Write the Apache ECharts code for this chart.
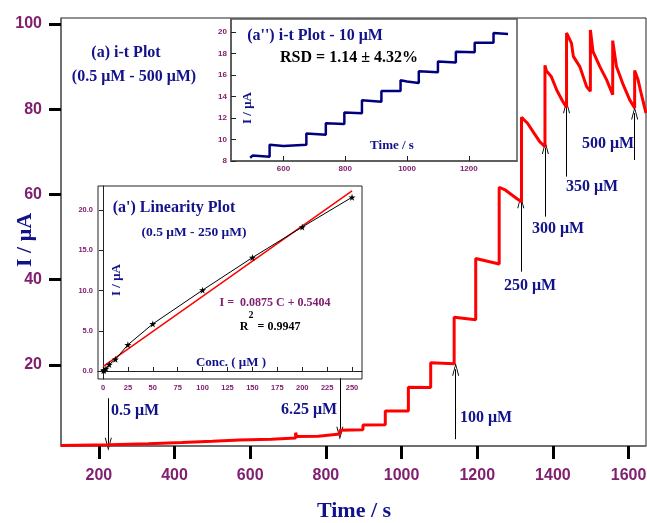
<!DOCTYPE html>
<html>
<head>
<meta charset="utf-8">
<script src="https://cdn.jsdelivr.net/npm/echarts@6/dist/echarts.min.js"></script>
<style>
  html, body { margin: 0; padding: 0; background: #fff; }
  #main { width: 647px; height: 523px; }
</style>
</head>
<body>
<div id="main"></div>
<script>
// (a) main i-t trace, 0.5 uM - 500 uM (time in s, current in uA)
var mainTime = [100, 230, 330, 420, 500, 572, 656, 656, 720, 720,
  723, 780, 780, 837, 837, 898, 898, 957, 957, 1018,
  1018, 1077, 1077, 1139, 1139, 1196, 1196, 1258, 1258, 1275,
  1290, 1305, 1317, 1317, 1333, 1350, 1365, 1379, 1379, 1383,
  1396, 1410, 1425, 1436, 1436, 1449, 1454, 1471, 1489, 1499,
  1499, 1506, 1524, 1542, 1558, 1558, 1568, 1586, 1603, 1616,
  1616, 1625, 1634, 1646];
var mainCurrent = [1.1, 1.3, 1.5, 1.8, 2.1, 2.4, 2.6, 2.8, 2.9, 4.1,
  3.2, 3.3, 3.7, 3.8, 4.7, 4.8, 5.9, 6.0, 9.2, 9.2,
  14.8, 14.7, 20.5, 20.3, 31.2, 30.6, 45.0, 43.7, 61.7, 61.0,
  60.0, 59.0, 58.3, 78.1, 76.7, 74.4, 72.4, 71.2, 90.3, 89.0,
  87.6, 84.5, 82.0, 80.4, 97.9, 95.5, 92.4, 90.0, 85.3, 84.2,
  98.6, 93.5, 90.0, 86.9, 83.4, 96.1, 90.0, 85.7, 82.2, 80.3,
  89.1, 86.9, 83.4, 79.1];

// (a'') i-t trace, 10 uM additions
var itTime = [492, 500, 555, 555, 600, 674, 674, 737, 737, 797,
  797, 854, 854, 917, 917, 979, 979, 1000, 1038, 1038,
  1100, 1100, 1158, 1158, 1219, 1219, 1280, 1280, 1327];
var itCurrent = [8.3, 8.5, 8.4, 9.5, 9.4, 9.5, 10.55, 10.45, 11.5, 11.45,
  12.5, 12.45, 13.65, 13.5, 14.5, 14.5, 15.5, 15.4, 15.25, 16.35,
  16.25, 17.25, 17.15, 18.15, 18.1, 19.0, 19.0, 19.9, 19.8];

// (a') linearity plot
var linConc = [0.5, 1, 3, 6.25, 12.5, 25, 50, 100, 150, 200, 250];
var linCurrent = [0.05, 0.1, 0.3, 0.8, 1.45, 3.25, 5.85, 10.05, 14.1, 17.9, 21.6];
var fitConc = [0, 250];
var fitCurrent = [0.54, 22.4];

// tick labels
var mainXTicks = [200, 400, 600, 800, 1000, 1200, 1400, 1600];
var mainYTicks = [20, 40, 60, 80, 100];
var itXTicks = [600, 800, 1000, 1200];
var itYTicks = [8, 10, 12, 14, 16, 18, 20];
var linXTicks = [0, 25, 50, 75, 100, 125, 150, 175, 200, 225, 250];
var linYTicks = [0, 5, 10, 15, 20];

// addition arrows: [time, from current, to current]
var arrowTime = [225, 837, 1143, 1315, 1380, 1436, 1616];
var arrowFrom = [12.2, 16.9, 2.6, 41.9, 54.8, 64.2, 68.1];
var arrowTo = [1.4, 4.0, 19.0, 58.3, 71.0, 80.6, 79.1];

function zip(a, b) {
  return a.map(function (v, i) { return [v, b[i]]; });
}

var purple = '#80206f';
var navy = '#12128a';
var serif = '"Liberation Serif", "Times New Roman", serif';
var sans = '"Liberation Sans", Arial, sans-serif';
var plain = function (v) { return String(v); };

var chevron = 'path://M50,0 L100,100 L86,100 L50,22 L14,100 L0,100 Z';
var star = 'path://M50,0 L61,35 L98,35 L68,57 L79,91 L50,70 L21,91 L32,57 L2,35 L39,35 Z';

var arrowLines = arrowTime.map(function (t, i) {
  return [{ coord: [t, arrowFrom[i]] }, { coord: [t, arrowTo[i]] }];
});

function txt(text, x, y, size, color, rot) {
  return {
    type: 'text', x: x, y: y, rotation: rot || 0, z: 100,
    style: {
      text: text, fill: color, fontSize: size, fontWeight: 'bold',
      fontFamily: serif, textAlign: 'center', textVerticalAlign: 'middle'
    }
  };
}

var chart = echarts.init(document.getElementById('main'));

var option = {
  animation: false,
  grid: [
    { left: 61, top: 18, width: 585, height: 428, show: true, outerBoundsMode: 'none',
      borderColor: '#222', borderWidth: 1 },
    { left: 231, top: 19, width: 286, height: 142, show: true, outerBoundsMode: 'none',
      backgroundColor: '#fff', borderColor: '#555', borderWidth: 1.5 },
    { left: 98, top: 186, width: 264, height: 193, show: true, outerBoundsMode: 'none',
      backgroundColor: '#fff', borderColor: '#222', borderWidth: 1 }
  ],
  xAxis: [
    { gridIndex: 0, type: 'value', min: 100, max: 1646,
      axisLine: { lineStyle: { color: '#666', width: 1.5 } },
      axisTick: { customValues: mainXTicks, length: 13, lineStyle: { color: '#000', width: 3 } },
      axisLabel: { customValues: mainXTicks, margin: 22, color: purple, formatter: plain,
        fontSize: 16, fontWeight: 'bold', fontFamily: sans },
      splitLine: { show: false } },
    { gridIndex: 1, type: 'value', min: 430, max: 1356,
      axisLine: { lineStyle: { color: '#555', width: 1.5 } },
      axisTick: { customValues: itXTicks, inside: true, length: 5, lineStyle: { color: '#222' } },
      axisLabel: { customValues: itXTicks, margin: 4, color: purple, formatter: plain,
        fontSize: 8, fontWeight: 'bold', fontFamily: sans },
      splitLine: { show: false } },
    { gridIndex: 2, type: 'value', min: -5, max: 260,
      axisLine: { lineStyle: { color: '#222', width: 1 } },
      axisTick: { customValues: linXTicks, inside: true, length: 4, lineStyle: { color: '#222' } },
      axisLabel: { customValues: linXTicks, margin: 5, color: purple, formatter: plain,
        fontSize: 7.5, fontWeight: 'bold', fontFamily: sans },
      splitLine: { show: false } }
  ],
  yAxis: [
    { gridIndex: 0, type: 'value', min: 1.0, max: 101.4,
      axisLine: { show: true, lineStyle: { color: '#666', width: 1.5 } },
      axisTick: { show: true, customValues: mainYTicks, length: 12, lineStyle: { color: '#000', width: 3 } },
      axisLabel: { customValues: mainYTicks, margin: 19, color: purple,
        fontSize: 16, fontWeight: 'bold', fontFamily: sans },
      splitLine: { show: false } },
    { gridIndex: 1, type: 'value', min: 8, max: 21.2,
      axisLine: { show: true, lineStyle: { color: '#555', width: 1.5 } },
      axisTick: { show: true, customValues: itYTicks, inside: true, length: 5, lineStyle: { color: '#222' } },
      axisLabel: { customValues: itYTicks, margin: 4, color: purple,
        fontSize: 8, fontWeight: 'bold', fontFamily: sans },
      splitLine: { show: false } },
    { gridIndex: 2, type: 'value', min: -1, max: 23,
      axisLine: { show: true, lineStyle: { color: '#222', width: 1 } },
      axisTick: { show: true, customValues: linYTicks, length: 4, lineStyle: { color: '#222' } },
      axisLabel: { customValues: linYTicks, margin: 5, color: purple,
        fontSize: 7.5, fontWeight: 'bold', fontFamily: sans,
        formatter: function (v) { return v.toFixed(1); } },
      splitLine: { show: false } }
  ],
  series: [
    { name: 'i-t', type: 'line', xAxisIndex: 0, yAxisIndex: 0,
      data: zip(mainTime, mainCurrent), showSymbol: false, z: 5,
      lineStyle: { color: '#ff0000', width: 3 },
      markLine: {
        silent: true, symbol: ['none', chevron], symbolSize: [7, 13],
        label: { show: false },
        lineStyle: { color: '#000', width: 1, type: 'solid' },
        emphasis: { disabled: true },
        data: arrowLines
      } },
    { name: 'i-t 10uM', type: 'line', xAxisIndex: 1, yAxisIndex: 1,
      data: zip(itTime, itCurrent), showSymbol: false,
      lineStyle: { color: '#00007f', width: 2.5 } },
    { name: 'fit', type: 'line', xAxisIndex: 2, yAxisIndex: 2,
      data: zip(fitConc, fitCurrent), showSymbol: false,
      lineStyle: { color: '#ff0000', width: 1.5 } },
    { name: 'linearity', type: 'line', xAxisIndex: 2, yAxisIndex: 2,
      data: zip(linConc, linCurrent), symbol: star, symbolSize: 7,
      itemStyle: { color: '#000' },
      lineStyle: { color: '#000', width: 1 } }
  ],
  graphic: [
    txt('(a) i-t Plot', 126, 53, 16, navy),
    txt('(0.5 μM - 500 μM)', 134, 77, 16, navy),
    txt('I / μA', 25, 240, 22, navy, Math.PI / 2),
    txt('Time / s', 354, 511, 22, navy),
    txt("(a'') i-t Plot - 10 μM", 315, 36, 16, navy),
    txt('RSD = 1.14 ± 4.32%', 349, 58, 16, '#000'),
    txt('I / μA', 248, 108, 13, navy, Math.PI / 2),
    txt('Time / s', 392, 146, 13, navy),
    txt("(a') Linearity Plot", 174, 208, 16, navy),
    txt('(0.5 μM - 250 μM)', 194, 233, 13.5, navy),
    txt('I / μA', 117, 280, 13, navy, Math.PI / 2),
    txt('I =  0.0875 C + 0.5404', 275, 303, 12, purple),
    txt('R', 244, 327, 12, '#000'),
    txt('2', 251, 315, 10, '#000'),
    txt('= 0.9947', 279, 327, 12, '#000'),
    txt('Conc. ( μM )', 231, 363, 13, navy),
    txt('0.5 μM', 135, 411, 16, navy),
    txt('6.25 μM', 309, 410, 16, navy),
    txt('100 μM', 486, 418, 16, navy),
    txt('250 μM', 530, 286, 16, navy),
    txt('300 μM', 558, 229, 16, navy),
    txt('350 μM', 592, 187, 16, navy),
    txt('500 μM', 608, 144, 16, navy)
  ]
};

chart.setOption(option);
</script>
</body>
</html>
